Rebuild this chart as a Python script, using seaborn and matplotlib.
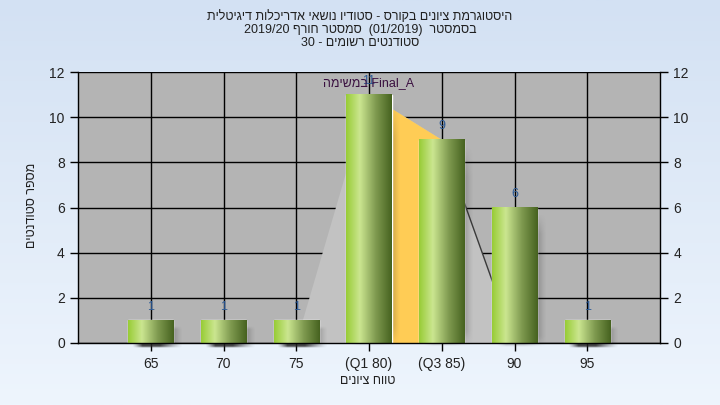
import numpy as np
import pandas as pd
import matplotlib
matplotlib.use('Agg')
import matplotlib.pyplot as plt
import seaborn as sns
from matplotlib.colors import LinearSegmentedColormap

# ----------------------------------------------------------------------
# Data
# ----------------------------------------------------------------------
grade_labels = ['65', '70', '75', '(Q1 80)', '(Q3 85)', '90', '95']
student_counts = [1, 1, 1, 11, 9, 6, 1]

# background "distribution" shape: (category index, height)
dist_x = [2, 3, 4, 5]
dist_y = [0, 11, 9, 0]
q1_idx, q3_idx = 3, 4

title_lines = [
    'היסטוגרמת ציונים בקורס - סטודיו נושאי אדריכלות דיגיטלית',
    'בסמסטר  (01/2019)  סמסטר חורף 2019/20',
    'סטודנטים רשומים - 30',
]
x_title = 'טווח ציונים'
y_title = 'מספר סטודנטים'
note_text = 'Final_A במשימה'


def visual(s):
    # very small RTL reordering so Hebrew reads correctly in matplotlib
    out = []
    for w in s.split(' '):
        if any('\u0590' <= c <= '\u05ff' for c in w):
            out.append(w[::-1])
        else:
            out.append(w)
    return ' '.join(out[::-1])


sns.set_style('white')
plt.rcParams['font.family'] = ['Liberation Sans', 'DejaVu Sans']

fig = plt.figure(figsize=(7.2, 4.05), dpi=100)

# figure background gradient
bg = fig.add_axes([0, 0, 1, 1], zorder=-10)
grad = np.linspace(0, 1, 256).reshape(-1, 1)
bg_cmap = LinearSegmentedColormap.from_list('bg', ['#d3e1f3', '#eef5fd'])
bg.imshow(grad, aspect='auto', cmap=bg_cmap, extent=[0, 1, 0, 1], origin='upper')
bg.axis('off')

ax = fig.add_axes([78 / 720, 1 - 343 / 405, 582 / 720, 271 / 405])
ax.set_facecolor('#b4b4b4')

df = pd.DataFrame({'grade': grade_labels, 'count': student_counts})
sns.barplot(data=df, x='grade', y='count', width=0.62, color='#9ccc3a',
            ax=ax, zorder=3)
bars = list(ax.patches)

ax.set_xlim(-1, 7)
ax.set_ylim(0, 12)

# grid
for yv in range(0, 13, 2):
    ax.axhline(yv, color='black', lw=1, zorder=1)
for xv in range(len(grade_labels)):
    ax.axvline(xv, color='black', lw=1, zorder=1)

# distribution shape and quartile band
ax.fill(dist_x, dist_y, color='#c2c2c2', zorder=1.5, lw=0)
band_x = [q1_idx, q1_idx, q3_idx, q3_idx]
band_y = [0, dist_y[dist_x.index(q1_idx)], dist_y[dist_x.index(q3_idx)], 0]
ax.fill(band_x, band_y, color='#ffcc55', zorder=1.6, lw=0)
ax.plot(dist_x[2:], dist_y[2:], color='#3a3a3a', lw=1, zorder=1.7)

# bar gradients + shadows
bar_cmap = LinearSegmentedColormap.from_list(
    'bar', [(0, '#98cc36'), (0.3, '#cbe690'), (0.65, '#7f9a50'), (1, '#46621f')])
hgrad = np.linspace(0, 1, 200).reshape(1, -1)
xs = np.linspace(0, 1, 60)
ys = np.linspace(0, 1, 60)
sx = np.clip(np.minimum(xs / 0.2, (1 - xs) / 0.45), 0, 1) ** 1.3
sy = np.clip(np.minimum(ys / 0.15, (1 - ys) / 0.08), 0, 1)
alpha = np.outer(sy, sx) * 0.85
shadow = np.zeros((60, 60, 4))
shadow[..., :3] = 0.15
shadow[..., 3] = alpha
for p in bars:
    x0, w, h = p.get_x(), p.get_width(), p.get_height()
    ax.imshow(shadow, extent=[x0 + 0.05, x0 + w + 0.12, -0.2, h - 0.25],
              aspect='auto', zorder=2.5, clip_on=False, interpolation='bilinear')
    ax.imshow(hgrad, extent=[x0, x0 + w, 0, h], aspect='auto', cmap=bar_cmap,
              zorder=3.5, interpolation='bilinear')

# value labels
for i, v in enumerate(student_counts):
    ax.text(i, v + 0.33, str(v), ha='center', va='bottom', fontsize=9,
            color='#2c5a96', zorder=6)
ax.text(q1_idx, 11.25, visual(note_text), ha='center', va='bottom',
        fontsize=9, color='#3a1040', zorder=6)

ax.set_xlim(-1, 7)
ax.set_ylim(0, 12)
ax.set_yticks(range(0, 13, 2))
ax.set_xticks(range(len(grade_labels)))
ax.set_xticklabels(grade_labels)
ax.set_xlabel('')
ax.set_ylabel('')
ax.tick_params(axis='both', direction='out', length=6, width=1, color='black',
               labelsize=10, labelcolor='#222222')
ax.tick_params(axis='y', right=True, labelright=True, left=True)
ax.tick_params(axis='x', bottom=True, pad=4)
for side in ['left', 'right', 'bottom']:
    ax.spines[side].set_visible(True)
    ax.spines[side].set_color('black')
    ax.spines[side].set_linewidth(1)
    ax.spines[side].set_zorder(8)
ax.spines['top'].set_visible(False)

# titles
for k, line in enumerate(title_lines):
    fig.text(0.5, 1 - (17 + 13 * k) / 405, visual(line), ha='center',
             va='center', fontsize=9, color='#202020')
fig.text(368 / 720, 1 - 381 / 405, visual(x_title), ha='center', va='center',
         fontsize=9, color='#202020')
fig.text(32 / 720, 1 - 205 / 405, visual(y_title), ha='center', va='center',
         rotation=90, fontsize=9, color='#202020')

fig.savefig('out.png', dpi=100)
